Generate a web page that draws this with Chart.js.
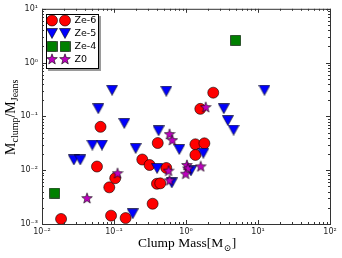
<!DOCTYPE html>
<html>
<head>
<meta charset="utf-8">
<script src="https://cdn.jsdelivr.net/npm/chart.js@4.4.1/dist/chart.umd.min.js"></script>
<style>
  html, body { margin:0; padding:0; background:#fff; }
  canvas { display:block; }
</style>
</head>
<body>
<canvas id="massChart" width="342" height="258"></canvas>
<script>
// ── Data (clump mass in Msun, ratio M_clump/M_Jeans) ───────────────
const ze6Mass  = [0.0184, 0.058, 0.065, 0.086, 0.091, 0.104, 0.145, 0.247, 0.312, 0.344,
                  0.405, 0.395, 0.439, 0.532, 1.35, 1.80, 1.35, 1.58, 2.39];
const ze6Ratio = [0.00124, 0.0117, 0.064, 0.0048, 0.00143, 0.0071, 0.00129, 0.0158, 0.0125, 0.00238,
                  0.032, 0.0056, 0.0057, 0.011, 0.0303, 0.0316, 0.0192, 0.138, 0.276];

const ze5Mass  = [0.0277, 0.034, 0.050, 0.068, 0.0605, 0.094, 0.139, 0.182, 0.200, 0.397,
                  0.416, 0.532, 0.635, 0.807, 1.17, 1.74, 3.35, 3.81, 4.58, 12.3];
const ze5Ratio = [0.0155, 0.0155, 0.0294, 0.0294, 0.139, 0.307, 0.074, 0.00155, 0.0254, 0.0108,
                  0.054, 0.294, 0.0058, 0.0243, 0.0097, 0.0207, 0.139, 0.0836, 0.0557, 0.307];

const ze4Mass  = [0.0150, 4.89];
const ze4Ratio = [0.00375, 2.59];

const z0Mass   = [0.0422, 0.112, 0.591, 0.646, 0.573, 0.591, 1.03, 1.06, 0.99, 1.60, 1.88];
const z0Ratio  = [0.00303, 0.0088, 0.047, 0.0364, 0.0098, 0.0065, 0.0125, 0.0108, 0.0086, 0.0118, 0.149];

const seriesNames = ['Ze-6', 'Ze-5', 'Ze-4', 'Z0'];
const xDecades = [0.01, 0.1, 1, 10, 100];
const yDecades = [0.001, 0.01, 0.1, 1, 10];

const RED = '#ff0000', BLUE = '#0000ff', GREEN = '#008000', MAGENTA = '#bf00bf';

// ── Marker images ──────────────────────────────────────────────────
function makeMarker(w, h, draw) {
  const c = document.createElement('canvas');
  c.width = w; c.height = h;
  const g = c.getContext('2d');
  g.lineWidth = 0.6; g.strokeStyle = '#000';
  draw(g);
  return c;
}

const triMarker = makeMarker(12, 11, g => {
  g.beginPath(); g.moveTo(0.5, 0.5); g.lineTo(11.5, 0.5); g.lineTo(6, 10.5); g.closePath();
  g.fillStyle = BLUE; g.fill(); g.stroke();
});

const sqMarker = makeMarker(11, 11, g => {
  g.beginPath(); g.rect(0.5, 0.5, 10, 10);
  g.fillStyle = GREEN; g.fill(); g.stroke();
});

const starMarker = makeMarker(12, 12, g => {
  g.beginPath();
  for (let i = 0; i < 10; i++) {
    const r = i % 2 ? 2.3 : 5.6;
    const a = -Math.PI / 2 + i * Math.PI / 5;
    const px = 6 + r * Math.cos(a), py = 6.4 + r * Math.sin(a);
    i ? g.lineTo(px, py) : g.moveTo(px, py);
  }
  g.closePath();
  g.fillStyle = MAGENTA; g.fill(); g.stroke();
});

function pts(xs, ys) { return xs.map((x, i) => ({ x, y: ys[i] })); }

const SUP = { '-': '⁻', '0': '⁰', '1': '¹', '2': '²', '3': '³' };
function powLabel(v) {
  const e = Math.round(Math.log10(v));
  return '10' + String(e).split('').map(c => SUP[c]).join('');
}

// ── Plugins: frame + inward ticks, axis titles, legend ─────────────
const framePlugin = {
  id: 'frame',
  afterDatasetsDraw(chart) {
    const { ctx, chartArea: a, scales: { x, y } } = chart;
    ctx.save();
    ctx.strokeStyle = '#333'; ctx.lineWidth = 1;
    ctx.strokeRect(a.left + 0.5, a.top + 0.5, a.right - a.left, a.bottom - a.top);
    ctx.beginPath();
    xDecades.forEach((d, i) => {
      const mult = i < xDecades.length - 1 ? [1,2,3,4,5,6,7,8,9] : [1];
      mult.forEach(m => {
        const px = Math.round(x.getPixelForValue(d * m)) + 0.5;
        const len = m === 1 ? 4 : 2;
        ctx.moveTo(px, a.bottom); ctx.lineTo(px, a.bottom - len);
        ctx.moveTo(px, a.top); ctx.lineTo(px, a.top + len);
      });
    });
    yDecades.forEach((d, i) => {
      const mult = i < yDecades.length - 1 ? [1,2,3,4,5,6,7,8,9] : [1];
      mult.forEach(m => {
        const py = Math.round(y.getPixelForValue(d * m)) + 0.5;
        const len = m === 1 ? 4 : 2;
        ctx.moveTo(a.left, py); ctx.lineTo(a.left + len, py);
        ctx.moveTo(a.right, py); ctx.lineTo(a.right - len, py);
      });
    });
    ctx.stroke();
    ctx.restore();
  },
  afterDraw(chart) {
    const ctx = chart.ctx;
    ctx.save();
    ctx.fillStyle = '#000';
    ctx.textBaseline = 'alphabetic';

    // x title
    let cx = 138;
    const big = '13.5px "Liberation Serif", serif', small = '9px "DejaVu Serif", serif';
    ctx.font = big; ctx.fillText('Clump Mass[M', cx, 247);
    cx += ctx.measureText('Clump Mass[M').width;
    ctx.font = small; ctx.fillText('⊙', cx + 0.5, 251);
    cx += ctx.measureText('⊙').width + 1;
    ctx.font = big; ctx.fillText(']', cx, 247);

    // y title (rotated)
    ctx.translate(15, 155);
    ctx.rotate(-Math.PI / 2);
    let tx = 0;
    const parts = [['M', 14, 0], ['clump', 10, 3], ['/M', 14, 0], ['Jeans', 10, 3]];
    parts.forEach(([t, size, dy]) => {
      ctx.font = size + 'px "Liberation Serif", serif';
      ctx.fillText(t, tx, dy);
      tx += ctx.measureText(t).width;
    });
    ctx.restore();

    // legend
    ctx.save();
    ctx.fillStyle = '#9a9a9a';
    ctx.fillRect(48, 16, 53, 55);
    ctx.fillStyle = '#fff';
    ctx.fillRect(46, 14, 53, 55);
    ctx.strokeStyle = '#000'; ctx.lineWidth = 1;
    ctx.strokeRect(46.5, 14.5, 52, 54);
    const rowY = [20.5, 33.5, 46.5, 59];
    const markX = [52, 65];
    const imgs = [null, triMarker, sqMarker, starMarker];
    rowY.forEach((ry, i) => {
      markX.forEach(mx => {
        if (i === 0) {
          ctx.beginPath(); ctx.arc(mx, ry, 5.5, 0, Math.PI * 2);
          ctx.fillStyle = RED; ctx.fill();
          ctx.lineWidth = 0.6; ctx.strokeStyle = '#000'; ctx.stroke();
        } else {
          const im = imgs[i];
          ctx.drawImage(im, mx - im.width / 2, ry - im.height / 2);
        }
      });
      ctx.fillStyle = '#000';
      ctx.font = '9.5px "DejaVu Sans", sans-serif';
      ctx.textBaseline = 'middle';
      ctx.fillText(seriesNames[i], 74.5, ry + 0.5);
    });
    ctx.restore();
  }
};

// ── Chart ──────────────────────────────────────────────────────────
const tickFont = { family: '"DejaVu Sans", sans-serif', size: 8 };

new Chart(document.getElementById('massChart').getContext('2d'), {
  type: 'scatter',
  data: {
    datasets: [
      { label: seriesNames[0], data: pts(ze6Mass, ze6Ratio), order: 4,
        pointStyle: 'circle', pointRadius: 5.5, backgroundColor: RED,
        borderColor: '#000', borderWidth: 0.6 },
      { label: seriesNames[1], data: pts(ze5Mass, ze5Ratio), order: 3,
        pointStyle: triMarker, pointRadius: 6 },
      { label: seriesNames[2], data: pts(ze4Mass, ze4Ratio), order: 2,
        pointStyle: sqMarker, pointRadius: 6 },
      { label: seriesNames[3], data: pts(z0Mass, z0Ratio), order: 1,
        pointStyle: starMarker, pointRadius: 6 }
    ]
  },
  options: {
    responsive: false, animation: false,
    layout: { padding: { top: 8, right: 12, left: 0, bottom: 0 } },
    plugins: { legend: { display: false }, tooltip: { enabled: false } },
    scales: {
      x: {
        type: 'logarithmic', min: 0.01, max: 100,
        grid: { display: false, drawTicks: false, tickLength: 0 }, border: { display: false },
        afterBuildTicks: s => { s.ticks = xDecades.map(v => ({ value: v })); },
        afterFit: s => { s.height = 34; },
        ticks: { font: tickFont, color: '#222', padding: 3, maxRotation: 0,
                 autoSkip: false, callback: v => powLabel(v) }
      },
      y: {
        type: 'logarithmic', min: 0.001, max: 10,
        grid: { display: false, drawTicks: false, tickLength: 0 }, border: { display: false },
        afterBuildTicks: s => { s.ticks = yDecades.map(v => ({ value: v })); },
        afterFit: s => { s.width = 42; },
        ticks: { font: tickFont, color: '#222', padding: 4,
                 autoSkip: false, callback: v => powLabel(v) }
      }
    }
  },
  plugins: [framePlugin]
});
</script>
</body>
</html>
